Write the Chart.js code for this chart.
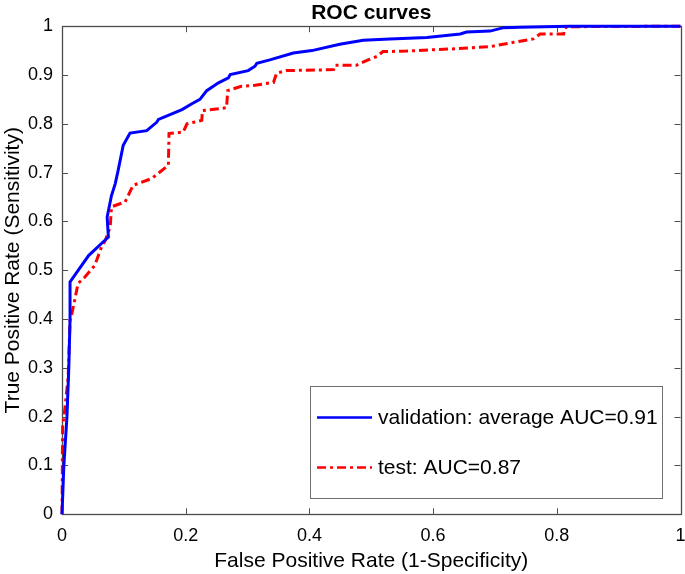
<!DOCTYPE html>
<html>
<head>
<meta charset="utf-8">
<title>ROC curves</title>
<script src="https://cdn.jsdelivr.net/npm/chart.js@4.4.1/dist/chart.umd.min.js"></script>
<style>
  html, body { margin: 0; padding: 0; background: #fff; }
  #wrap { width: 685px; height: 574px; }
</style>
</head>
<body>
<div id="wrap"><canvas id="roc" width="685" height="574"></canvas></div>
<script>
// 곡선 값
const valFpr = [0, 0.003, 0.008, 0.011, 0.013, 0.013, 0.043, 0.069, 0.075, 0.073, 0.080, 0.086, 0.090, 0.099, 0.110,
    0.137, 0.153, 0.156, 0.194, 0.210, 0.223, 0.234, 0.253, 0.269, 0.272, 0.301, 0.312, 0.315, 0.336, 0.374,
    0.404, 0.449, 0.487, 0.530, 0.590, 0.644, 0.654, 0.692, 0.714, 0.740, 0.820, 1];
const valTpr = [0, 0.100, 0.200, 0.300, 0.400, 0.476, 0.530, 0.561, 0.568, 0.609, 0.653, 0.677, 0.700, 0.756, 0.781,
    0.786, 0.803, 0.809, 0.829, 0.841, 0.850, 0.868, 0.884, 0.894, 0.901, 0.909, 0.918, 0.924, 0.931, 0.945,
    0.950, 0.963, 0.971, 0.974, 0.977, 0.984, 0.988, 0.990, 0.997, 0.998, 1.000, 1.000];

const testFpr = [0, 0.001, 0.005, 0.010, 0.013, 0.016, 0.026, 0.037, 0.053, 0.064, 0.070, 0.078, 0.080, 0.102, 0.115,
    0.126, 0.145, 0.172, 0.173, 0.196, 0.202, 0.226, 0.227, 0.266, 0.268, 0.290, 0.312, 0.342, 0.347, 0.363,
    0.439, 0.441, 0.476, 0.493, 0.509, 0.519, 0.557, 0.638, 0.692, 0.730, 0.762, 0.773, 0.811, 0.813, 0.827, 1];
const testTpr = [0, 0.179, 0.220, 0.282, 0.398, 0.411, 0.473, 0.486, 0.510, 0.548, 0.561, 0.589, 0.630, 0.640, 0.674,
    0.679, 0.688, 0.715, 0.780, 0.783, 0.800, 0.807, 0.827, 0.833, 0.868, 0.877, 0.879, 0.885, 0.904, 0.909,
    0.911, 0.920, 0.920, 0.930, 0.938, 0.948, 0.949, 0.954, 0.958, 0.967, 0.974, 0.984, 0.984, 0.997, 0.999, 1.000];

const seriesNames = ['validation: average AUC=0.91', 'test: AUC=0.87'];
const xTicks = [0, 0.2, 0.4, 0.6, 0.8, 1];
const yTicks = [0, 0.1, 0.2, 0.3, 0.4, 0.5, 0.6, 0.7, 0.8, 0.9, 1];

const FONT = "'Liberation Sans', Arial, Helvetica, sans-serif";
const AXIS_COLOR = '#4d4d4d';

function toPoints(xs, ys) {
    return xs.map((x, i) => ({ x: x, y: ys[i] }));
}

/** MATLAB 스타일 박스 + 안쪽 눈금 */
const boxAxes = {
    id: 'boxAxes',
    beforeDatasetsDraw(chart) {
        const { ctx, chartArea: a, scales } = chart;
        const len = 6;
        ctx.save();
        ctx.strokeStyle = AXIS_COLOR;
        ctx.lineWidth = 1;
        ctx.beginPath();
        xTicks.forEach(v => {
            const px = Math.round(scales.x.getPixelForValue(v)) + 0.5;
            ctx.moveTo(px, a.bottom); ctx.lineTo(px, a.bottom - len);
            ctx.moveTo(px, a.top); ctx.lineTo(px, a.top + len);
        });
        yTicks.forEach(v => {
            const py = Math.round(scales.y.getPixelForValue(v)) + 0.5;
            ctx.moveTo(a.left, py); ctx.lineTo(a.left + len, py);
            ctx.moveTo(a.right, py); ctx.lineTo(a.right - len, py);
        });
        ctx.stroke();
        ctx.lineWidth = 1.3;
        ctx.strokeRect(Math.round(a.left) + 0.5, Math.round(a.top) + 0.5,
            Math.round(a.right - a.left), Math.round(a.bottom - a.top));
        ctx.restore();
    }
};

/** 그래프 안쪽 오른쪽 아래 범례 */
const boxLegend = {
    id: 'boxLegend',
    afterDraw(chart) {
        const { ctx, chartArea: a } = chart;
        const w = 352, h = 112;
        const x0 = Math.round(a.right - 19 - w), y0 = Math.round(a.bottom - 16 - h);
        ctx.save();
        ctx.fillStyle = '#fff';
        ctx.fillRect(x0, y0, w, h);
        ctx.strokeStyle = '#6e6e6e';
        ctx.lineWidth = 1;
        ctx.strokeRect(x0 + 0.5, y0 + 0.5, w, h);
        chart.data.datasets.forEach((ds, i) => {
            const y = y0 + 31.5 + i * 50;
            ctx.beginPath();
            ctx.setLineDash(ds.borderDash || []);
            ctx.strokeStyle = ds.borderColor;
            ctx.lineWidth = 2.5;
            ctx.moveTo(x0 + 7, y);
            ctx.lineTo(x0 + 62, y);
            ctx.stroke();
            ctx.setLineDash([]);
            ctx.fillStyle = '#000';
            ctx.font = '21px ' + FONT;
            ctx.textBaseline = 'middle';
            ctx.fillText(ds.label, x0 + 68, y + 1);
        });
        ctx.restore();
    }
};

new Chart(document.getElementById('roc'), {
    type: 'line',
    data: {
        datasets: [{
            label: seriesNames[0],
            data: toPoints(valFpr, valTpr),
            borderColor: '#0000ff',
            borderWidth: 3,
            clip: 5
        }, {
            label: seriesNames[1],
            data: toPoints(testFpr, testTpr),
            borderColor: '#ff0000',
            borderWidth: 3,
            borderDash: [9, 4, 3, 4],
            clip: 5
        }]
    },
    options: {
        responsive: false,
        animation: false,
        devicePixelRatio: 1,
        layout: { padding: { left: 0, right: 4.5, top: 0, bottom: 0 } },
        elements: {
            point: { radius: 0, hoverRadius: 0 },
            line: { tension: 0, fill: false }
        },
        scales: {
            x: {
                type: 'linear',
                min: 0,
                max: 1,
                afterBuildTicks: s => { s.ticks = xTicks.map(v => ({ value: v })); },
                ticks: {
                    color: '#000',
                    font: { family: FONT, size: 18 },
                    padding: 11,
                    maxRotation: 0,
                    callback: v => String(v)
                },
                grid: { display: false, drawTicks: false },
                border: { display: false },
                title: {
                    display: true,
                    text: 'False Positive Rate (1-Specificity)',
                    color: '#000',
                    font: { family: FONT, size: 21 },
                    padding: { top: 0, bottom: 0 }
                },
                afterFit: s => { s.height = 59.7; s.paddingLeft = 0; s.paddingRight = 0; }
            },
            y: {
                type: 'linear',
                min: 0,
                max: 1,
                afterBuildTicks: s => { s.ticks = yTicks.map(v => ({ value: v })); },
                ticks: {
                    color: '#000',
                    font: { family: FONT, size: 18 },
                    padding: 9,
                    callback: v => String(v)
                },
                grid: { display: false, drawTicks: false },
                border: { display: false },
                title: {
                    display: true,
                    text: 'True Positive Rate (Sensitivity)',
                    color: '#000',
                    font: { family: FONT, size: 21 },
                    padding: { top: 1, bottom: 0 }
                },
                afterFit: s => { s.width = 62; s.paddingTop = 0; s.paddingBottom = 0; }
            }
        },
        plugins: {
            legend: { display: false },
            tooltip: { enabled: false },
            title: {
                display: true,
                text: 'ROC curves',
                fullSize: false,
                color: '#000',
                font: { family: FONT, size: 21, weight: 'bold' },
                padding: { top: 1, bottom: 0 }
            }
        }
    },
    plugins: [boxAxes, boxLegend]
});
</script>
</body>
</html>
